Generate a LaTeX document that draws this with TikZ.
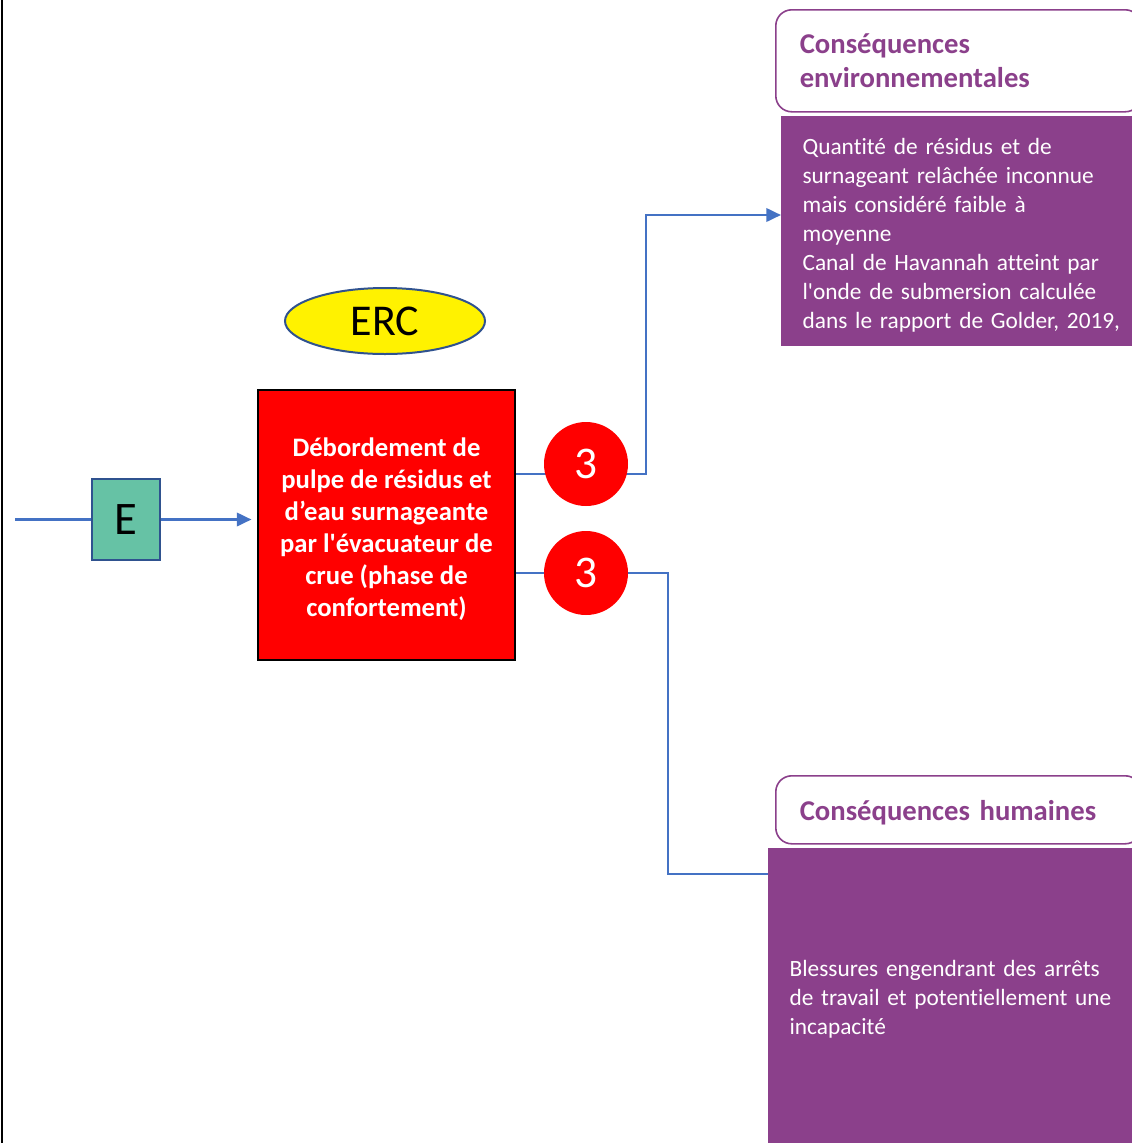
\documentclass[tikz,border=0pt]{standalone}
\usepackage{fontspec}
\setmainfont{Carlito}[Ligatures={NoCommon}]
\usetikzlibrary{arrows.meta,shapes.geometric}
\definecolor{ercpurple}{RGB}{139,64,139}
\definecolor{linkblue}{RGB}{68,114,196}
\definecolor{edgeblue}{RGB}{47,82,143}
\definecolor{eventgreen}{RGB}{102,194,165}
\begin{document}
\begin{tikzpicture}[
            x=0.75pt, y=-0.75pt,
            link/.style={draw=linkblue, line width=2pt},
            tip/.style={-{Triangle[length=11pt,width=10pt]}},
            evt/.style={rectangle, draw=edgeblue, line width=1.5pt, fill=eventgreen,
                minimum width=51pt, minimum height=61pt, font=\fontsize{35}{40}\selectfont},
            rank/.style={circle, fill=red, text=white, minimum size=63pt, inner sep=0pt,
                font=\fontsize{34}{40}\selectfont},
            head/.style={rectangle, rounded corners=12pt, draw=ercpurple, line width=1.2pt, fill=white,
                anchor=north west, align=left, text=ercpurple, inner xsep=18pt, text width=238pt,
                minimum width=274pt, font=\bfseries\fontsize{21.5}{26}\selectfont},
            body/.style={rectangle, fill=ercpurple, text=white, anchor=north west, align=left,
                inner xsep=16pt, font=\fontsize{17.5}{21.7}\selectfont}
            ]
            \useasboundingbox (0,0) rectangle (1132,1143);
            % left frame
            \draw[line width=1.5pt] (2,0) -- (2,1143);
            % event and ERC
            \node[evt] (E) at (126,519.5) {E};
            \node[ellipse, draw=edgeblue, line width=1.5pt, fill=yellow, minimum width=150pt,
                minimum height=49.5pt, font=\fontsize{33}{38}\selectfont] (erc) at (385,321) {ERC};
            \node[rectangle, draw=black, line width=1.5pt, fill=red, text=white, align=center,
                minimum width=193pt, minimum height=202pt,
                font=\bfseries\fontsize{20}{24}\selectfont] (red) at (386.5,525)
                {\rule{0pt}{21pt}Débordement de\\pulpe de résidus et\\d’eau surnageante\\par l\textquotesingle évacuateur de\\crue (phase de\\confortement)};
            % consequences
            \node[head, minimum height=76.5pt] (envhead) at (775,9)
                {Conséquences\\environnementales};
            \node[body, text width=260pt, minimum width=269pt, minimum height=172.5pt] (envtxt) at (781,116)
                {\rule{0pt}{18pt}Quantité de résidus et de\\surnageant relâchée inconnue\\mais considéré faible à\\moyenne\\Canal de Havannah atteint par\\l\textquotesingle onde de submersion calculée\\dans le rapport de Golder, 2019,};
            \node[head, minimum height=51pt] (humhead) at (775,775)
                {\rule{0pt}{19pt}Conséquences humaines};
            \node[body, text width=260pt, minimum width=279pt, minimum height=226.5pt] (humtxt) at (768,848)
                {Blessures engendrant des arrêts\\de travail et potentiellement une\\incapacité};
            % connectors
            \coordinate (in) at (15,519.5);
            \coordinate (k1) at (646,215);
            \coordinate (k2) at (668,874);
            \draw[link] (in) -- (E);
            \draw[link,tip,shorten >=4pt] (E.east) -- (E.east -| red.west);
            \draw[link,tip] ([yshift=38.25pt]red.east) -| (k1) -- (envtxt.west |- k1);
            \draw[link] ([yshift=-36pt]red.east) -| (k2) -- (humtxt.west |- k2);
            \node[rank] (r1) at (586,464) {3};
            \node[rank] (r2) at (586,573) {3};
        \end{tikzpicture}
\end{document}
